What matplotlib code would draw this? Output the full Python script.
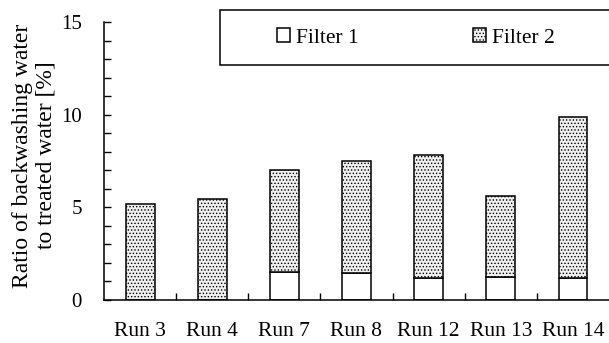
import matplotlib
matplotlib.use("Agg")
import matplotlib.pyplot as plt
from matplotlib.patches import Rectangle
import numpy as np

plt.rcParams['font.family'] = ['Liberation Serif', 'DejaVu Serif']
plt.rcParams['hatch.color'] = '#8a8a8a'
plt.rcParams['hatch.linewidth'] = 0.6

runs = ["Run 3", "Run 4", "Run 7", "Run 8", "Run 12", "Run 13", "Run 14"]
filter1 = [0.0, 0.0, 1.5, 1.45, 1.18, 1.24, 1.17]
total = [5.18, 5.43, 7.02, 7.5, 7.82, 5.61, 9.88]
filter2 = [t - f for t, f in zip(total, filter1)]

W, H = 609, 343
fig = plt.figure(figsize=(W / 100, H / 100), dpi=100)
ax = fig.add_axes([104 / W, 1 - 300 / H, 1 - 104 / W, (300 - 22.3) / H])

x = np.arange(len(runs))
w = 0.4
ax.bar(x, filter1, w, color='white', edgecolor='black', linewidth=1.1,
       label='Filter 1')
ax.bar(x, filter2, w, bottom=filter1, color='#efefef', edgecolor='black',
       linewidth=1.1, hatch='.....', label='Filter 2')

ax.set_xlim(-0.5, len(runs) - 0.5)
ax.set_ylim(0, 15)
ax.set_yticks([0, 5, 10, 15])
ax.set_yticks(np.arange(0, 16, 1), minor=True)
ax.set_xticks(x)
ax.set_xticklabels(runs)
ax.set_xticks(np.arange(0.5, len(runs) - 0.5, 1), minor=True)

ax.tick_params(axis='y', which='both', direction='in', length=5, width=1,
               labelsize=15, pad=16)
ax.tick_params(axis='x', which='major', length=0, labelsize=15.5, pad=16)
ax.tick_params(axis='x', which='minor', direction='in', length=5, width=1)

for s in ['top', 'right']:
    ax.spines[s].set_visible(False)
for s in ['left', 'bottom']:
    ax.spines[s].set_linewidth(1.1)

ax.set_ylabel("Ratio of backwashing water\nto treated water [%]",
              fontsize=17, linespacing=1.15)
ax.yaxis.set_label_coords((56 - 104) / (W - 104), 0.52)

# legend frame spanning to the right edge of the figure
fig.add_artist(Rectangle((220 / W, 1 - 65 / H), (W + 10 - 220) / W, 55 / H,
                         transform=fig.transFigure, facecolor='white',
                         edgecolor='black', linewidth=1.1, clip_on=False))
fig.legend(loc='center left', ncol=2,
           bbox_to_anchor=(277 / W, 1 - 38 / H),
           frameon=False, fontsize=15.5,
           handlelength=0.6, handleheight=0.6, handletextpad=0.3,
           columnspacing=5.3, borderpad=0, borderaxespad=0)

fig.savefig("out.png", dpi=100)
